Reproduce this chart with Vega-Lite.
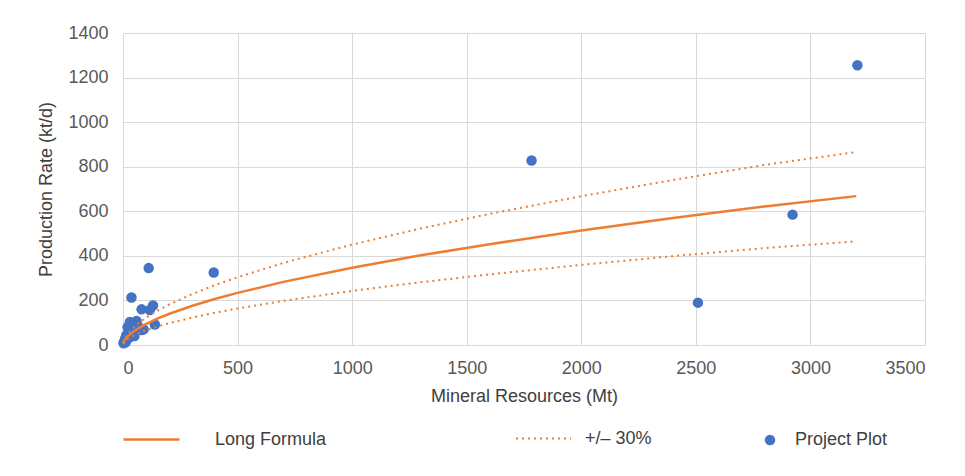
{
  "$schema": "https://vega.github.io/schema/vega-lite/v6.json",
  "width": 802,
  "height": 312,
  "autosize": {"type": "none"},
  "padding": {"left": 123, "top": 33, "right": 40, "bottom": 131},
  "background": "white",
  "config": {
    "font": "Liberation Sans",
    "view": {"stroke": null},
    "axis": {
      "gridColor": "#D9D9D9",
      "gridWidth": 1,
      "domainColor": "#D9D9D9",
      "ticks": false,
      "labelFont": "Liberation Sans",
      "labelFontSize": 18,
      "labelColor": "#595959",
      "titleFont": "Liberation Sans",
      "titleFontSize": 18,
      "titleFontWeight": "normal",
      "titleColor": "#404040"
    },
    "legend": {
      "labelFont": "Liberation Sans",
      "labelFontSize": 18,
      "labelColor": "#404040",
      "padding": 0,
      "orient": "none",
      "title": null
    }
  },
  "datasets": {
    "points": [
      {"resources": 3205, "production": 1255, "type": "Project Plot"},
      {"resources": 1783, "production": 828, "type": "Project Plot"},
      {"resources": 2509, "production": 190, "type": "Project Plot"},
      {"resources": 2922, "production": 585, "type": "Project Plot"},
      {"resources": 396, "production": 325, "type": "Project Plot"},
      {"resources": 112, "production": 345, "type": "Project Plot"},
      {"resources": 37, "production": 213, "type": "Project Plot"},
      {"resources": 131, "production": 177, "type": "Project Plot"},
      {"resources": 117, "production": 157, "type": "Project Plot"},
      {"resources": 81, "production": 160, "type": "Project Plot"},
      {"resources": 139, "production": 92, "type": "Project Plot"},
      {"resources": 81, "production": 67, "type": "Project Plot"},
      {"resources": 59, "production": 108, "type": "Project Plot"},
      {"resources": 30, "production": 103, "type": "Project Plot"},
      {"resources": 45, "production": 95, "type": "Project Plot"},
      {"resources": 20, "production": 80, "type": "Project Plot"},
      {"resources": 25, "production": 60, "type": "Project Plot"},
      {"resources": 15, "production": 45, "type": "Project Plot"},
      {"resources": 10, "production": 30, "type": "Project Plot"},
      {"resources": 5, "production": 15, "type": "Project Plot"},
      {"resources": 2, "production": 8, "type": "Project Plot"},
      {"resources": 8, "production": 20, "type": "Project Plot"},
      {"resources": 50, "production": 40, "type": "Project Plot"},
      {"resources": 40, "production": 55, "type": "Project Plot"},
      {"resources": 65, "production": 85, "type": "Project Plot"},
      {"resources": 90, "production": 70, "type": "Project Plot"},
      {"resources": 30, "production": 35, "type": "Project Plot"},
      {"resources": 12, "production": 12, "type": "Project Plot"}
    ],
    "curve": [
      {"resources": 1, "production": 6.9, "series": "Long Formula"},
      {"resources": 5, "production": 17.19, "series": "Long Formula"},
      {"resources": 10, "production": 25.46, "series": "Long Formula"},
      {"resources": 20, "production": 37.71, "series": "Long Formula"},
      {"resources": 40, "production": 55.87, "series": "Long Formula"},
      {"resources": 70, "production": 76.74, "series": "Long Formula"},
      {"resources": 100, "production": 93.97, "series": "Long Formula"},
      {"resources": 150, "production": 118.2, "series": "Long Formula"},
      {"resources": 200, "production": 139.2, "series": "Long Formula"},
      {"resources": 300, "production": 175.1, "series": "Long Formula"},
      {"resources": 400, "production": 206.2, "series": "Long Formula"},
      {"resources": 500, "production": 234.0, "series": "Long Formula"},
      {"resources": 700, "production": 283.2, "series": "Long Formula"},
      {"resources": 1000, "production": 346.6, "series": "Long Formula"},
      {"resources": 1300, "production": 402.3, "series": "Long Formula"},
      {"resources": 1600, "production": 452.5, "series": "Long Formula"},
      {"resources": 2000, "production": 513.5, "series": "Long Formula"},
      {"resources": 2400, "production": 569.5, "series": "Long Formula"},
      {"resources": 2800, "production": 621.5, "series": "Long Formula"},
      {"resources": 3200, "production": 668.0, "series": "Long Formula"}
    ],
    "band": [
      {"resources": 1, "production": 8.97, "bound": "upper", "label": "+/– 30%"},
      {"resources": 5, "production": 22.35, "bound": "upper", "label": "+/– 30%"},
      {"resources": 10, "production": 33.1, "bound": "upper", "label": "+/– 30%"},
      {"resources": 20, "production": 49.02, "bound": "upper", "label": "+/– 30%"},
      {"resources": 40, "production": 72.63, "bound": "upper", "label": "+/– 30%"},
      {"resources": 70, "production": 99.76, "bound": "upper", "label": "+/– 30%"},
      {"resources": 100, "production": 122.16, "bound": "upper", "label": "+/– 30%"},
      {"resources": 150, "production": 153.7, "bound": "upper", "label": "+/– 30%"},
      {"resources": 200, "production": 181.0, "bound": "upper", "label": "+/– 30%"},
      {"resources": 300, "production": 227.6, "bound": "upper", "label": "+/– 30%"},
      {"resources": 400, "production": 268.1, "bound": "upper", "label": "+/– 30%"},
      {"resources": 500, "production": 304.2, "bound": "upper", "label": "+/– 30%"},
      {"resources": 700, "production": 368.2, "bound": "upper", "label": "+/– 30%"},
      {"resources": 1000, "production": 450.6, "bound": "upper", "label": "+/– 30%"},
      {"resources": 1300, "production": 523.0, "bound": "upper", "label": "+/– 30%"},
      {"resources": 1600, "production": 588.3, "bound": "upper", "label": "+/– 30%"},
      {"resources": 2000, "production": 667.6, "bound": "upper", "label": "+/– 30%"},
      {"resources": 2400, "production": 740.4, "bound": "upper", "label": "+/– 30%"},
      {"resources": 2800, "production": 808.0, "bound": "upper", "label": "+/– 30%"},
      {"resources": 3200, "production": 866.0, "bound": "upper", "label": "+/– 30%"},
      {"resources": 1, "production": 4.83, "bound": "lower", "label": "+/– 30%"},
      {"resources": 5, "production": 12.03, "bound": "lower", "label": "+/– 30%"},
      {"resources": 10, "production": 17.82, "bound": "lower", "label": "+/– 30%"},
      {"resources": 20, "production": 26.4, "bound": "lower", "label": "+/– 30%"},
      {"resources": 40, "production": 39.11, "bound": "lower", "label": "+/– 30%"},
      {"resources": 70, "production": 53.72, "bound": "lower", "label": "+/– 30%"},
      {"resources": 100, "production": 65.78, "bound": "lower", "label": "+/– 30%"},
      {"resources": 150, "production": 82.7, "bound": "lower", "label": "+/– 30%"},
      {"resources": 200, "production": 97.4, "bound": "lower", "label": "+/– 30%"},
      {"resources": 300, "production": 122.6, "bound": "lower", "label": "+/– 30%"},
      {"resources": 400, "production": 144.3, "bound": "lower", "label": "+/– 30%"},
      {"resources": 500, "production": 163.8, "bound": "lower", "label": "+/– 30%"},
      {"resources": 700, "production": 198.2, "bound": "lower", "label": "+/– 30%"},
      {"resources": 1000, "production": 242.6, "bound": "lower", "label": "+/– 30%"},
      {"resources": 1300, "production": 281.6, "bound": "lower", "label": "+/– 30%"},
      {"resources": 1600, "production": 316.8, "bound": "lower", "label": "+/– 30%"},
      {"resources": 2000, "production": 359.5, "bound": "lower", "label": "+/– 30%"},
      {"resources": 2400, "production": 398.7, "bound": "lower", "label": "+/– 30%"},
      {"resources": 2800, "production": 435.1, "bound": "lower", "label": "+/– 30%"},
      {"resources": 3200, "production": 465.0, "bound": "lower", "label": "+/– 30%"}
    ]
  },
  "encoding": {
    "x": {
      "field": "resources",
      "type": "quantitative",
      "title": "Mineral Resources (Mt)",
      "scale": {"domain": [0, 3500], "nice": false},
      "axis": {"values": [0, 500, 1000, 1500, 2000, 2500, 3000, 3500], "format": "d", "labelPadding": 14, "titlePadding": 10}
    },
    "y": {
      "field": "production",
      "type": "quantitative",
      "title": "Production Rate (kt/d)",
      "scale": {"domain": [0, 1400], "nice": false},
      "axis": {"values": [0, 200, 400, 600, 800, 1000, 1200, 1400], "format": "d", "labelPadding": 15, "titlePadding": 12}
    }
  },
  "layer": [
    {
      "data": {"name": "points"},
      "mark": {"type": "point", "filled": true, "opacity": 1, "size": 110, "color": "#4472C4"},
      "encoding": {
        "shape": {
          "field": "type",
          "type": "nominal",
          "scale": {"range": ["circle"]},
          "legend": {
            "legendX": 638,
            "legendY": 398,
            "symbolSize": 110,
            "symbolFillColor": "#4472C4",
            "symbolStrokeColor": "#4472C4",
            "symbolOpacity": 1,
            "labelOffset": 16
          }
        }
      }
    },
    {
      "data": {"name": "band"},
      "mark": {"type": "line", "strokeWidth": 2, "color": "#ED7D31", "strokeCap": "butt"},
      "encoding": {
        "detail": {"field": "bound"},
        "strokeDash": {
          "field": "label",
          "type": "nominal",
          "scale": {"range": [[2, 4]]},
          "legend": {
            "legendX": 392,
            "legendY": 377,
            "symbolType": "stroke",
            "symbolSize": 3025,
            "symbolStrokeColor": "#ED7D31",
            "symbolStrokeWidth": 2,
            "symbolDash": [2, 4],
            "labelOffset": 13
          }
        }
      }
    },
    {
      "data": {"name": "curve"},
      "mark": {"type": "line", "strokeWidth": 2.5},
      "encoding": {
        "color": {
          "field": "series",
          "type": "nominal",
          "scale": {"range": ["#ED7D31"]},
          "legend": {
            "legendX": -1,
            "legendY": 377,
            "symbolType": "stroke",
            "symbolSize": 3136,
            "symbolStrokeWidth": 2.5,
            "labelOffset": 34
          }
        }
      }
    }
  ]
}
